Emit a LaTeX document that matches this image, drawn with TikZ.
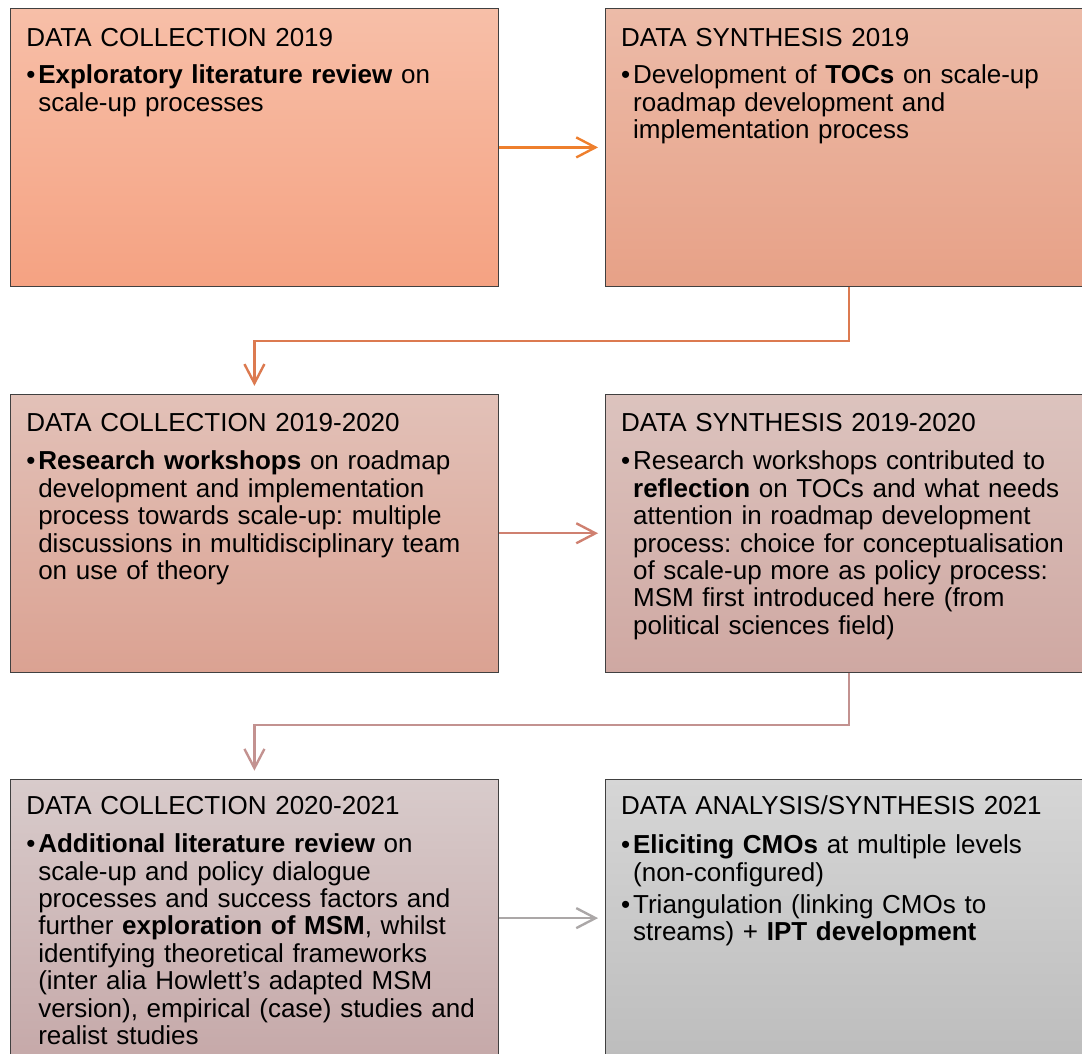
\documentclass[tikz,border=0pt]{standalone}
\usepackage{fontspec}
\setmainfont{Liberation Sans}
\usetikzlibrary{arrows.meta, positioning}
\frenchspacing
\definecolor{cborder}{HTML}{404040}
\definecolor{aTop}{HTML}{F7BFA8}
\definecolor{aBot}{HTML}{F5A282}
\definecolor{bTop}{HTML}{ECBBA8}
\definecolor{bBot}{HTML}{E7A187}
\definecolor{cTop}{HTML}{E2C1B8}
\definecolor{cBot}{HTML}{DBA292}
\definecolor{dTop}{HTML}{DCC3BE}
\definecolor{dBot}{HTML}{CFA8A2}
\definecolor{eTop}{HTML}{D8CBCB}
\definecolor{eBot}{HTML}{C6A9A9}
\definecolor{fTop}{HTML}{D6D6D6}
\definecolor{fBot}{HTML}{BDBDBD}
\definecolor{lnA}{HTML}{EE7F2D}
\definecolor{lnB}{HTML}{DC7A50}
\definecolor{lnC}{HTML}{CF8070}
\definecolor{lnD}{HTML}{C39290}
\definecolor{lnE}{HTML}{ABA7A7}
\newcommand{\bitem}{\par\vspace{3.3pt}\hangindent=0.3cm\hangafter=1\noindent\makebox[0.3cm][l]{\textbullet}}
\tikzstyle{stage} = [rectangle, anchor=north west, minimum width=12.2cm, minimum height=6.95cm, draw=cborder, line width=0.6pt]
\tikzstyle{boxtext} = [anchor=base west, inner sep=0pt, text width=11.6cm, align=left, font=\fontsize{18.5}{19.5}\selectfont\frenchspacing]
\tikzstyle{flow} = [line width=1.7pt, -{Straight Barb[length=0.48cm, width=0.5cm, line width=1.7pt]}]

\begin{document}
\begin{tikzpicture}[node distance=2.65cm]
\clip (0,0) rectangle (27.05,-26.325);
\node (dc1) [stage, top color=aTop, bottom color=aBot] at (0.25,-0.2) {};
\node (ds1) [stage, top color=bTop, bottom color=bBot, right = of dc1] {};
\node (dc2) [stage, top color=cTop, bottom color=cBot, below = 2.675cm of dc1] {};
\node (ds2) [stage, top color=dTop, bottom color=dBot, right = of dc2] {};
\node (dc3) [stage, top color=eTop, bottom color=eBot, below = of dc2] {};
\node (da3) [stage, top color=fTop, bottom color=fBot, right = of dc3] {};
% texts
\node (dc1txt) [boxtext] at ([shift={(0.4,-0.95)}]dc1.north west) {DATA COLLECTION 2019\par\vspace{4.2pt}
\bitem\textbf{Exploratory literature review} on\newline scale-up processes\par};
\node (ds1txt) [boxtext] at ([shift={(0.4,-0.95)}]ds1.north west) {DATA SYNTHESIS 2019\par\vspace{4.2pt}
\bitem Development of \textbf{TOCs} on scale-up\newline roadmap development and\newline implementation process\par};
\node (dc2txt) [boxtext] at ([shift={(0.4,-0.95)}]dc2.north west) {DATA COLLECTION 2019-2020\par\vspace{4.2pt}
\bitem\textbf{Research workshops} on roadmap\newline development and implementation\newline process towards scale-up: multiple\newline discussions in multidisciplinary team\newline on use of theory\par};
\node (ds2txt) [boxtext] at ([shift={(0.4,-0.95)}]ds2.north west) {DATA SYNTHESIS 2019-2020\par\vspace{4.2pt}
\bitem Research workshops contributed to\newline \textbf{reflection} on TOCs and what needs\newline attention in roadmap development\newline process: choice for conceptualisation\newline of scale-up more as policy process:\newline MSM first introduced here (from\newline political sciences field)\par};
\node (dc3txt) [boxtext] at ([shift={(0.4,-0.9)}]dc3.north west) {DATA COLLECTION 2020-2021\par\vspace{4.2pt}
\bitem\textbf{Additional literature review} on\newline scale-up and policy dialogue\newline processes and success factors and\newline further \textbf{exploration of MSM}, whilst\newline identifying theoretical frameworks\newline (inter alia Howlett’s adapted MSM\newline version), empirical (case) studies and\newline realist studies\par};
\node (da3txt) [boxtext] at ([shift={(0.4,-0.9)}]da3.north west) {DATA ANALYSIS/SYNTHESIS 2021\par\vspace{5pt}
\bitem\textbf{Eliciting CMOs} at multiple levels\newline (non-configured)
\bitem Triangulation (linking CMOs to\newline streams) + \textbf{IPT development}\par};
% connectors
\draw [flow, lnA, shorten >=0.17cm] (dc1) -- (ds1);
\draw [flow, lnB, shorten >=0.2cm] (ds1.south) -- ++(0,-1.35) -| (dc2.north);
\draw [flow, lnC, shorten >=0.17cm] (dc2) -- (ds2);
\draw [flow, lnD, shorten >=0.2cm] (ds2.south) -- ++(0,-1.3) -| (dc3.north);
\draw [flow, lnE, shorten >=0.17cm] (dc3) -- (da3);
\end{tikzpicture}
\end{document}
